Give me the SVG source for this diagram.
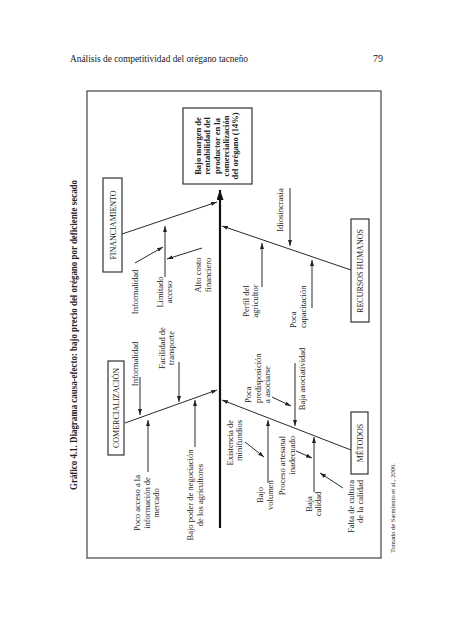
<svg xmlns="http://www.w3.org/2000/svg" width="453" height="640" viewBox="0 0 453 640">
<defs>
<marker id="ah" viewBox="0 0 6 4" refX="6" refY="2" markerWidth="6" markerHeight="4" markerUnits="userSpaceOnUse" orient="auto"><path d="M0,0 L6,2 L0,4 z" fill="#222"/></marker>
<marker id="ahBig" viewBox="0 0 10 7" refX="10" refY="3.5" markerWidth="10" markerHeight="7" markerUnits="userSpaceOnUse" orient="auto"><path d="M0,0 L10,3.5 L0,7 z" fill="#111"/></marker>
</defs>
<style>
text{font-family:"Liberation Serif","Times New Roman",serif;fill:#222}
.lbl{font-size:8.5px}
.cat{font-size:8px}
.eff{font-size:8.5px;font-weight:bold}
.ttl{font-size:9.5px;font-weight:bold}
.hdr{font-size:10px}
.note{font-size:6.5px}
.box{fill:none;stroke:#333;stroke-width:1.2}
.ln{stroke:#2a2a2a;stroke-width:1;fill:none}
.arr{stroke:#2a2a2a;stroke-width:1;fill:none;marker-end:url(#ah)}
.spine{stroke:#111;stroke-width:2.2;fill:none;marker-end:url(#ahBig)}
</style>
<rect width="453" height="640" fill="#fff"/>
<text class="hdr" x="70" y="62" textLength="178" lengthAdjust="spacingAndGlyphs">Análisis de competitividad del orégano tacneño</text>
<text class="hdr" x="373" y="62">79</text>
<text class="ttl" transform="translate(76.5,490) rotate(-90)" textLength="310" lengthAdjust="spacingAndGlyphs">Gráfico 4.1. Diagrama causa-efecto: bajo precio del orégano por deficiente secado</text>
<rect x="87" y="91" width="294" height="467" fill="none" stroke="#444" stroke-width="1.2"/>
<text class="note" transform="translate(394.5,553) rotate(-90)" textLength="90" lengthAdjust="spacingAndGlyphs">Tomado de Sarmiento et al., 2006.</text>

<g id="connectors">
<line class="spine" x1="220" y1="528" x2="220" y2="190"/>
<line class="arr" x1="122" y1="234" x2="217" y2="202"/>
<line class="arr" x1="125" y1="423" x2="217" y2="390"/>
<line class="arr" x1="351" y1="270" x2="222" y2="226"/>
<line class="arr" x1="351" y1="450" x2="222" y2="400"/>
<!-- financiamiento -->
<line class="arr" x1="135" y1="263" x2="163" y2="247"/>
<line class="arr" x1="165" y1="277" x2="165" y2="226"/>
<line class="arr" x1="202" y1="248" x2="167" y2="259"/>
<!-- comercializacion -->
<line class="arr" x1="140" y1="377" x2="140" y2="415"/>
<line class="arr" x1="179" y1="362" x2="179" y2="402"/>
<line class="arr" x1="148" y1="472" x2="148" y2="420"/>
<line class="arr" x1="195" y1="447" x2="195" y2="400"/>
<!-- recursos humanos -->
<line class="arr" x1="290" y1="188" x2="290" y2="246"/>
<line class="arr" x1="262" y1="287" x2="262" y2="243"/>
<line class="arr" x1="312" y1="308" x2="312" y2="260"/>
<!-- metodos -->
<line class="arr" x1="295" y1="363" x2="295" y2="426"/>
<line class="arr" x1="272" y1="397" x2="291" y2="406"/>
<line class="arr" x1="245" y1="442" x2="264" y2="457"/>
<line class="arr" x1="268" y1="483" x2="268" y2="420"/>
<line class="arr" x1="296" y1="451" x2="312" y2="458"/>
<line class="arr" x1="314" y1="492" x2="314" y2="437"/>
<line class="arr" x1="343" y1="488" x2="320" y2="473"/>
</g>

<g id="effect">
<rect class="box" x="183" y="108" width="69" height="76"/>
<text class="eff" transform="translate(201,146) rotate(-90)" text-anchor="middle"><tspan x="0" dy="0">Bajo margen de</tspan><tspan x="0" dy="9.3">rentabilidad del</tspan><tspan x="0" dy="9.3">productor en la</tspan><tspan x="0" dy="9.3">comercialización</tspan><tspan x="0" dy="9.3">del orégano (14%)</tspan></text>
</g>

<g id="financiamiento">
<rect class="box" x="103" y="178" width="19" height="94"/>
<text class="cat" transform="translate(115.5,225) rotate(-90)" text-anchor="middle">FINANCIAMIENTO</text>
</g>
<g id="comercializacion">
<rect class="box" x="108" y="361" width="16" height="94"/>
<text class="cat" transform="translate(119,408) rotate(-90)" text-anchor="middle">COMERCIALIZACIÓN</text>
</g>
<g id="recursos">
<rect class="box" x="351" y="219" width="18" height="103"/>
<text class="cat" transform="translate(363,271) rotate(-90)" text-anchor="middle">RECURSOS HUMANOS</text>
</g>
<g id="metodos">
<rect class="box" x="351" y="412" width="17" height="62"/>
<text class="cat" transform="translate(362.5,443) rotate(-90)" text-anchor="middle">MÉTODOS</text>
</g>

<g id="fin-informalidad"><text class="lbl" transform="translate(138,292) rotate(-90)" text-anchor="middle">Informalidad</text></g>
<g id="fin-limitado"><text class="lbl" transform="translate(163,292) rotate(-90)" text-anchor="middle"><tspan x="0" dy="0">Limitado</tspan><tspan x="0" dy="9">acceso</tspan></text></g>
<g id="fin-alto"><text class="lbl" transform="translate(201,275) rotate(-90)" text-anchor="middle"><tspan x="0" dy="0">Alto costo</tspan><tspan x="0" dy="9.5">financiero</tspan></text></g>

<g id="com-informalidad"><text class="lbl" transform="translate(138,364) rotate(-90)" text-anchor="middle">Informalidad</text></g>
<g id="com-facilidad"><text class="lbl" transform="translate(165,348) rotate(-90)" text-anchor="middle"><tspan x="0" dy="0">Facilidad de</tspan><tspan x="0" dy="8.5">transporte</tspan></text></g>
<g id="com-poco"><text class="lbl" transform="translate(140,503) rotate(-90)" text-anchor="middle"><tspan x="0" dy="0">Poco acceso a la</tspan><tspan x="0" dy="9.5">información de</tspan><tspan x="0" dy="9.5">mercado</tspan></text></g>
<g id="com-bajo"><text class="lbl" transform="translate(193,495) rotate(-90)" text-anchor="middle"><tspan x="0" dy="0">Bajo poder de negociación</tspan><tspan x="0" dy="10">de los agricultores</tspan></text></g>

<g id="rh-idio"><text class="lbl" transform="translate(283,210) rotate(-90)" text-anchor="middle">Idiosincrasia</text></g>
<g id="rh-perfil"><text class="lbl" transform="translate(249,301) rotate(-90)" text-anchor="middle"><tspan x="0" dy="0">Perfil del</tspan><tspan x="0" dy="8.5">agricultor</tspan></text></g>
<g id="rh-poca"><text class="lbl" transform="translate(296,328) rotate(-90)"><tspan x="0" dy="0">Poca</tspan><tspan x="0" dy="10">capacitación</tspan></text></g>

<g id="met-baja-asoc"><text class="lbl" transform="translate(305,379) rotate(-90)" text-anchor="middle">Baja asociatividad</text></g>
<g id="met-poca"><text class="lbl" transform="translate(251,403) rotate(-90)"><tspan x="0" dy="0">Poca</tspan><tspan x="0" dy="9.5">predisposición</tspan><tspan x="0" dy="9.5">a asociarse</tspan></text></g>
<g id="met-exist"><text class="lbl" transform="translate(233,420) rotate(-90)" text-anchor="end"><tspan x="0" dy="0">Existencia de</tspan><tspan x="0" dy="9">minifundios</tspan></text></g>
<g id="met-bajo-vol"><text class="lbl" transform="translate(263,495) rotate(-90)" text-anchor="middle"><tspan x="0" dy="0">Bajo</tspan><tspan x="0" dy="10">volumen</tspan></text></g>
<g id="met-proceso"><text class="lbl" transform="translate(285,436) rotate(-90)" text-anchor="end"><tspan x="0" dy="0">Proceso artesanal</tspan><tspan x="0" dy="10">inadecuado</tspan></text></g>
<g id="met-baja-cal"><text class="lbl" transform="translate(312,504) rotate(-90)" text-anchor="middle"><tspan x="0" dy="0">Baja</tspan><tspan x="0" dy="9">calidad</tspan></text></g>
<g id="met-falta"><text class="lbl" transform="translate(354,480) rotate(-90)" text-anchor="end"><tspan x="0" dy="0">Falta de cultura</tspan><tspan x="0" dy="9">de la calidad</tspan></text></g>
</svg>
